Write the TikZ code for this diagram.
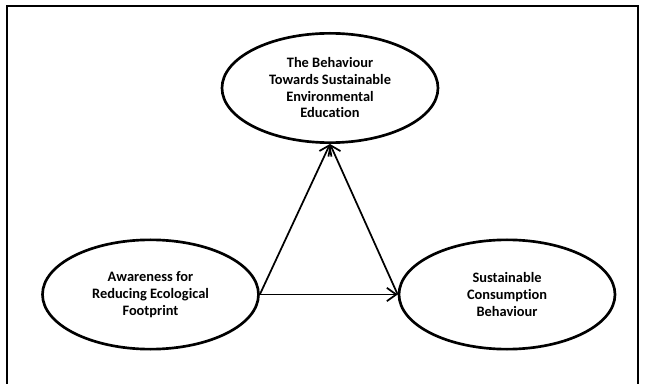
\documentclass[tikz,border=0pt]{standalone}
\usepackage{fontspec}
\setmainfont[Ligatures=NoCommon]{Carlito}
\usetikzlibrary{arrows.meta,shapes.geometric}
\tikzset{every picture/.style={/utils/exec={\bfseries}}}
\tikzset{factor/.style={draw,ellipse,line width=2pt,minimum width=162pt,minimum height=82pt,inner sep=0pt,align=center,font=\fontsize{10.8}{12.5}\selectfont\bfseries},
         link/.style={line width=1.3pt,-{Straight Barb[length=7pt,width=10pt,line width=1.3pt]}}}

\begin{document}
\begin{tikzpicture}[x=0.75pt,y=-0.75pt]
    \useasboundingbox (0,0) rectangle (645,384);
    \draw [line width=1.6pt] (7,384) -- (7,6) -- (638,6) -- (638,384);
    \node [factor] (edu) at (330,88) {The Behaviour\\Towards Sustainable\\Environmental\\Education};
    \node [factor] (aware) at (150.5,294.5) {Awareness for\\Reducing Ecological\\Footprint};
    \node [factor] (cons) at (507,294.5) {Sustainable\\Consumption\\Behaviour};
    \draw [link] (aware.east) -- (edu.south);
    \draw [link] (cons.west) -- (edu.south);
    \draw [link] (aware.east) -- (cons.west);
\end{tikzpicture}
\end{document}
